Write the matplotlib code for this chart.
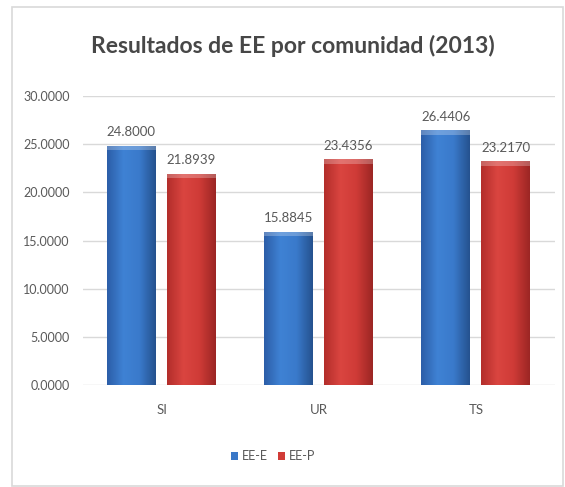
import numpy as np
import matplotlib
matplotlib.use("Agg")
import matplotlib.pyplot as plt
from matplotlib.patches import Rectangle
from matplotlib.colors import LinearSegmentedColormap

categories = ["SI", "UR", "TS"]
series_names = ["EE-E", "EE-P"]
ee_e = [24.8000, 15.8845, 26.4406]
ee_p = [21.8939, 23.4356, 23.2170]
yticks = [0, 5, 10, 15, 20, 25, 30]

FONT = ["Lato", "Open Sans", "DejaVu Sans"]
TXT = "#595959"

fig = plt.figure(figsize=(5.65, 4.87), dpi=100)
fig.patch.set_facecolor("white")

# outer chart frame
fig.patches.append(Rectangle((12 / 565, 1 / 487), 551 / 565, 479 / 487,
                             transform=fig.transFigure, fill=False,
                             edgecolor="#d9d9d9", linewidth=1.2))

ax = fig.add_axes([83 / 565, 1 - 385 / 487, (554.5 - 83) / 565, (385 - 96) / 487])
ax.set_xlim(-0.5, 2.5)
ax.set_ylim(0, 30)
for s in ax.spines.values():
    s.set_visible(False)
ax.set_yticks(yticks)
ax.set_yticklabels([f"{v:.4f}" for v in yticks], fontfamily=FONT, fontsize=9, color=TXT)
ax.tick_params(axis="y", length=0, pad=9.5)
ax.set_xticks(range(len(categories)))
ax.set_xticklabels(categories, fontfamily=FONT, fontsize=9.5, color=TXT)
ax.tick_params(axis="x", length=0, pad=14)
ax.grid(axis="y", color="#d9d9d9", linewidth=1.0)
ax.set_axisbelow(True)

blue_cmap = LinearSegmentedColormap.from_list("b", ["#2c5ea8", "#3f82d4", "#3a7acb", "#25528f"])
red_cmap = LinearSegmentedColormap.from_list("r", ["#b32e2b", "#da4540", "#cf3b37", "#9c2624"])
grad = np.linspace(0, 1, 64).reshape(1, -1)

width = 0.31
offsets = [-0.192, 0.19]
colors = ["#3a78c8", "#d13c37"]
cmaps = [blue_cmap, red_cmap]
x = np.arange(len(categories))
for vals, off, col, cm, name in zip([ee_e, ee_p], offsets, colors, cmaps, series_names):
    bars = ax.bar(x + off, vals, width, color=col, label=name, zorder=2)
    for b, v in zip(bars, vals):
        x0, w = b.get_x(), b.get_width()
        im = ax.imshow(grad, cmap=cm, aspect="auto", extent=(x0, x0 + w, 0, v),
                       zorder=3, interpolation="bicubic")
        im.set_clip_path(b)
        # lighter cap at the top of each bar
        ax.add_patch(Rectangle((x0, v - 0.45), w, 0.45, facecolor="white",
                               alpha=0.25, edgecolor="none", zorder=4))
        ax.text(x0 + w / 2, v + 0.8, f"{v:.4f}", ha="center", va="bottom",
                fontfamily=FONT, fontsize=9.5, color=TXT, zorder=5)
ax.set_xlim(-0.5, 2.5)
ax.set_ylim(0, 30)

fig.text(293 / 565, 1 - 46 / 487, "Resultados de EE por comunidad (2013)",
         ha="center", va="center", fontfamily=FONT, fontsize=16.5,
         fontweight="bold", color="#474747")

leg = fig.legend(loc="center", bbox_to_anchor=(273 / 565, 1 - 456 / 487), ncol=2,
                 frameon=False, handlelength=0.6, handleheight=0.6,
                 handletextpad=0.3, columnspacing=0.8,
                 prop={"family": FONT, "size": 9})
for t in leg.get_texts():
    t.set_color(TXT)

fig.savefig("out.png", dpi=100, facecolor="white")
